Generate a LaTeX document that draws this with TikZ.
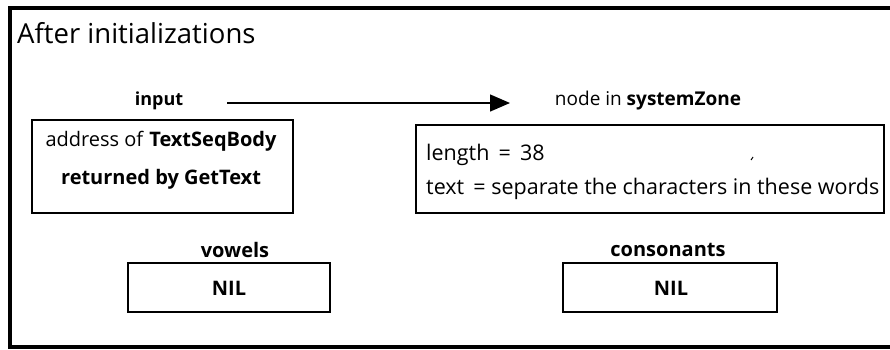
\documentclass[tikz,border=0pt]{standalone}
\usepackage{fontspec}
\setmainfont{Open Sans}
\usetikzlibrary{arrows.meta}
\begin{document}
\begin{tikzpicture}[x=1pt,y=-1pt,
  every node/.style={font=\fontsize{20}{24}\selectfont, inner sep=0pt},
  cell/.style={draw, line width=1.6pt},
  frameline/.style={line width=3.5pt},
  lbl/.style={font=\fontsize{18}{22}\selectfont\bfseries},
  biglbl/.style={font=\fontsize{20}{24}\selectfont\bfseries}]
\useasboundingbox (0,0) rectangle (890,349);
% outer frame: open on the right
\draw[frameline] (890,8) -- (10,8) -- (10,347) -- (890,347);
\node[anchor=base west, font=\fontsize{27.5}{32}\selectfont] (title) at (17,43) {After initializations};

% input pointer
\node[lbl] (input) at (159,101) {input};
\node[font=\fontsize{19}{22}\selectfont] (sysz) at (648,101) {node in \textbf{systemZone}};
\coordinate (astart) at (227,103);
\coordinate (aend) at (510,103);
\draw[line width=1.4pt, -{Triangle[length=20pt,width=17pt]}] (astart) -- (aend);
\draw[cell] (32,120) rectangle (293,213);
\node[align=center, font=\fontsize{20}{38}\selectfont] (addr) at (161,160)
  {address of \textbf{TextSeqBody}\\\textbf{returned by GetText}};

% node contents
\draw[cell] (416,125) rectangle (884,213);
\node[anchor=base west, font=\fontsize{21.5}{24}\selectfont] (len) at (426,160) {length \,=\, 38};
\node[anchor=base west, font=\fontsize{21.5}{24}\selectfont] (txt) at (426,194) {text \,= separate the characters in these words};
\draw[line width=1pt] (751,160) -- (753,157);

% vowels and consonants
\node[biglbl] (vow) at (235,250) {vowels};
\draw[cell] (128,263) rectangle (330,312);
\node[biglbl] (vnil) at (229,288) {NIL};
\node[biglbl] (cons) at (668,250) {consonants};
\draw[cell] (563,263) rectangle (777,312);
\node[biglbl] (cnil) at (671,288) {NIL};
\end{tikzpicture}
\end{document}
